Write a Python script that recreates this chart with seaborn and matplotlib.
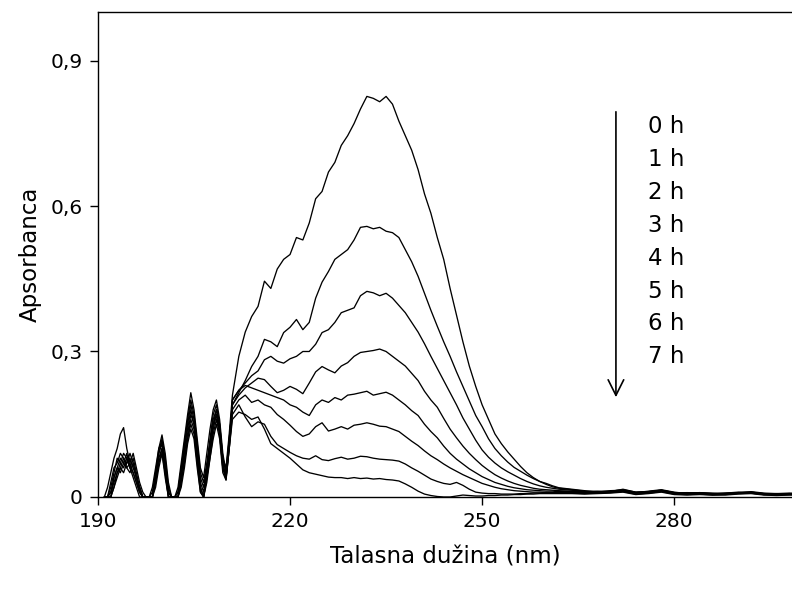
import numpy as np
import pandas as pd
import matplotlib
matplotlib.use("Agg")
import matplotlib.pyplot as plt
import seaborn as sns

# wavelength grid (nm): fine in the noisy far-UV part, coarser in the flat tail
wl = np.concatenate([np.arange(191, 211, 0.5), np.arange(211, 263, 1.0), np.arange(264, 301, 2.0)])

times = ['0 h', '1 h', '2 h', '3 h', '4 h', '5 h', '6 h', '7 h']

abs_0h = [0, 0, 0.03, 0.06, 0.07, 0.09, 0.08, 0.06, 0.05, 0.07, 0.04, 0.02, 0, 0, 0, 0, 0.04, 0.09, 0.12, 0.08,
          0.02, 0, 0, 0.01, 0.06, 0.11, 0.16, 0.2, 0.17, 0.11, 0.05, 0.03, 0.07, 0.12, 0.17, 0.19, 0.15, 0.08, 0.06, 0.13,
          0.21, 0.29, 0.34, 0.372, 0.393, 0.445, 0.43, 0.47, 0.49, 0.5, 0.535, 0.53, 0.565, 0.615, 0.63, 0.67, 0.69,
          0.725, 0.745, 0.77, 0.8, 0.826, 0.822, 0.815, 0.826, 0.81, 0.775, 0.745, 0.715, 0.675, 0.625, 0.585, 0.535,
          0.49, 0.43, 0.375, 0.32, 0.27, 0.228, 0.19, 0.16, 0.13, 0.11, 0.093, 0.078, 0.063, 0.05, 0.04, 0.032, 0.026,
          0.021, 0.018,
          0.015, 0.012, 0.011, 0.012, 0.015, 0.010, 0.011, 0.014, 0.009, 0.008, 0.009, 0.007, 0.008, 0.009, 0.010,
          0.007, 0.006, 0.007, 0.007]
abs_1h = [0, 0.02, 0.05, 0.08, 0.1, 0.13, 0.143, 0.1, 0.07, 0.09, 0.06, 0.03, 0.01, 0, 0, 0.02, 0.06, 0.1, 0.128, 0.09,
          0.03, 0, 0, 0.02, 0.07, 0.12, 0.17, 0.215, 0.18, 0.12, 0.06, 0.04, 0.09, 0.14, 0.18, 0.2, 0.16, 0.09, 0.05, 0.12,
          0.19, 0.215, 0.24, 0.269, 0.29, 0.325, 0.32, 0.31, 0.339, 0.35, 0.366, 0.345, 0.36, 0.41, 0.443, 0.465, 0.49,
          0.5, 0.51, 0.53, 0.556, 0.558, 0.553, 0.556, 0.548, 0.545, 0.535, 0.51, 0.485, 0.455, 0.42, 0.385, 0.352,
          0.32, 0.29, 0.258, 0.228, 0.198, 0.168, 0.145, 0.12, 0.1, 0.085, 0.072, 0.061, 0.053, 0.045, 0.038, 0.032,
          0.028, 0.023, 0.019,
          0.016, 0.013, 0.010, 0.013, 0.014, 0.009, 0.012, 0.015, 0.010, 0.007, 0.008, 0.008, 0.007, 0.008, 0.011,
          0.008, 0.007, 0.006, 0.006]
abs_2h = [0, 0, 0.02, 0.05, 0.08, 0.07, 0.09, 0.08, 0.06, 0.08, 0.05, 0.02, 0, 0, 0, 0, 0.05, 0.1, 0.115, 0.07,
          0.01, 0, 0, 0, 0.05, 0.1, 0.15, 0.19, 0.16, 0.1, 0.04, 0.02, 0.06, 0.11, 0.16, 0.18, 0.14, 0.07, 0.04, 0.11,
          0.2, 0.22, 0.235, 0.25, 0.26, 0.283, 0.29, 0.28, 0.276, 0.285, 0.29, 0.3, 0.3, 0.315, 0.339, 0.345, 0.36,
          0.38, 0.385, 0.39, 0.415, 0.424, 0.421, 0.415, 0.42, 0.41, 0.395, 0.38, 0.36, 0.34, 0.316, 0.29, 0.265,
          0.24, 0.215, 0.19, 0.163, 0.14, 0.117, 0.097, 0.082, 0.07, 0.06, 0.052, 0.045, 0.038, 0.032, 0.027, 0.023,
          0.02, 0.018, 0.016,
          0.014, 0.011, 0.012, 0.011, 0.016, 0.010, 0.010, 0.013, 0.008, 0.009, 0.008, 0.006, 0.008, 0.010, 0.009,
          0.006, 0.007, 0.008, 0.007]
abs_3h = [0, 0, 0, 0.04, 0.06, 0.08, 0.07, 0.09, 0.06, 0.05, 0.03, 0.01, 0, 0, 0, 0.01, 0.05, 0.09, 0.11, 0.06,
          0.01, 0, 0, 0.01, 0.06, 0.1, 0.14, 0.18, 0.15, 0.09, 0.03, 0.01, 0.06, 0.1, 0.15, 0.18, 0.15, 0.08, 0.05, 0.12,
          0.19, 0.21, 0.225, 0.235, 0.245, 0.242, 0.228, 0.215, 0.22, 0.228, 0.222, 0.213, 0.235, 0.258, 0.269, 0.262,
          0.256, 0.27, 0.277, 0.29, 0.298, 0.3, 0.302, 0.305, 0.3, 0.29, 0.28, 0.27, 0.255, 0.24, 0.218, 0.2, 0.185,
          0.162, 0.14, 0.122, 0.105, 0.09, 0.077, 0.065, 0.055, 0.046, 0.039, 0.033, 0.028, 0.024, 0.021, 0.018,
          0.016, 0.015, 0.014, 0.013,
          0.012, 0.010, 0.011, 0.010, 0.014, 0.009, 0.011, 0.014, 0.009, 0.007, 0.009, 0.007, 0.006, 0.009, 0.010,
          0.007, 0.006, 0.006, 0.006]
abs_4h = [0, 0, 0.01, 0.03, 0.05, 0.06, 0.08, 0.07, 0.08, 0.06, 0.04, 0.02, 0, 0, 0, 0, 0.04, 0.08, 0.1, 0.06,
          0.01, 0, 0, 0, 0.04, 0.09, 0.13, 0.17, 0.15, 0.09, 0.02, 0, 0.05, 0.1, 0.15, 0.17, 0.14, 0.07, 0.04, 0.11,
          0.2, 0.22, 0.23, 0.225, 0.22, 0.215, 0.21, 0.205, 0.2, 0.19, 0.185, 0.175, 0.168, 0.19, 0.2, 0.195, 0.205,
          0.2, 0.21, 0.212, 0.215, 0.218, 0.21, 0.213, 0.216, 0.21, 0.2, 0.19, 0.178, 0.168, 0.15, 0.135, 0.122,
          0.105, 0.09, 0.078, 0.068, 0.058, 0.05, 0.042, 0.036, 0.03, 0.026, 0.022, 0.019, 0.017, 0.015, 0.014,
          0.013, 0.012, 0.012, 0.011,
          0.011, 0.010, 0.009, 0.011, 0.013, 0.008, 0.010, 0.013, 0.008, 0.008, 0.007, 0.006, 0.007, 0.008, 0.009,
          0.006, 0.005, 0.006, 0.006]
abs_5h = [0, 0, 0, 0.02, 0.04, 0.06, 0.05, 0.07, 0.09, 0.07, 0.04, 0.01, 0, 0, 0, 0, 0.03, 0.07, 0.1, 0.05,
          0, 0, 0, 0, 0.03, 0.08, 0.12, 0.16, 0.14, 0.08, 0.02, 0, 0.04, 0.09, 0.14, 0.17, 0.13, 0.06, 0.04, 0.1,
          0.18, 0.2, 0.21, 0.195, 0.2, 0.19, 0.185, 0.17, 0.16, 0.148, 0.135, 0.125, 0.13, 0.145, 0.153, 0.136, 0.14,
          0.145, 0.14, 0.148, 0.15, 0.153, 0.15, 0.146, 0.145, 0.14, 0.135, 0.125, 0.115, 0.106, 0.095, 0.085, 0.077,
          0.068, 0.06, 0.053, 0.046, 0.04, 0.034, 0.028, 0.024, 0.02, 0.017, 0.015, 0.013, 0.012, 0.011, 0.01,
          0.01, 0.009, 0.009, 0.009,
          0.009, 0.009, 0.008, 0.010, 0.012, 0.008, 0.009, 0.012, 0.007, 0.006, 0.007, 0.005, 0.006, 0.008, 0.008,
          0.005, 0.005, 0.005, 0.005]
abs_6h = [0, 0, 0.01, 0.04, 0.06, 0.05, 0.07, 0.06, 0.07, 0.05, 0.03, 0.01, 0, 0, 0, 0, 0.03, 0.07, 0.09, 0.05,
          0, 0, 0, 0, 0.03, 0.07, 0.12, 0.15, 0.13, 0.07, 0.01, 0, 0.04, 0.08, 0.13, 0.16, 0.13, 0.06, 0.035, 0.1,
          0.17, 0.19, 0.165, 0.145, 0.155, 0.15, 0.125, 0.108, 0.1, 0.092, 0.085, 0.08, 0.078, 0.085, 0.077, 0.075,
          0.079, 0.082, 0.078, 0.08, 0.084, 0.083, 0.08, 0.078, 0.077, 0.076, 0.074, 0.068, 0.06, 0.053, 0.045, 0.037,
          0.032, 0.028, 0.026, 0.03, 0.024, 0.016, 0.01, 0.008, 0.007, 0.007, 0.006, 0.006, 0.006, 0.007, 0.007,
          0.008, 0.008, 0.008, 0.008, 0.008,
          0.008, 0.007, 0.008, 0.009, 0.011, 0.006, 0.008, 0.011, 0.006, 0.005, 0.006, 0.004, 0.005, 0.007, 0.008,
          0.005, 0.004, 0.005, 0.005]
abs_7h = [0, 0, 0, 0.02, 0.05, 0.07, 0.06, 0.08, 0.06, 0.04, 0.02, 0, 0, 0, 0, 0, 0.02, 0.06, 0.09, 0.04,
          0, 0, 0, 0, 0.02, 0.06, 0.11, 0.14, 0.12, 0.06, 0.01, 0, 0.03, 0.08, 0.12, 0.15, 0.12, 0.05, 0.035, 0.1,
          0.16, 0.175, 0.17, 0.16, 0.165, 0.14, 0.11, 0.1, 0.09, 0.08, 0.068, 0.056, 0.05, 0.047, 0.044, 0.041, 0.04,
          0.04, 0.038, 0.04, 0.038, 0.039, 0.037, 0.038, 0.036, 0.035, 0.033, 0.027, 0.02, 0.012, 0.006, 0.003,
          0.001, 0, 0, 0.002, 0.004, 0.003, 0.002, 0.002, 0.003, 0.003, 0.004, 0.004, 0.005, 0.005, 0.006, 0.006,
          0.007, 0.007, 0.007, 0.007,
          0.007, 0.006, 0.007, 0.008, 0.010, 0.005, 0.007, 0.010, 0.005, 0.004, 0.005, 0.004, 0.004, 0.006, 0.007,
          0.004, 0.003, 0.004, 0.004]

curves = [abs_0h, abs_1h, abs_2h, abs_3h, abs_4h, abs_5h, abs_6h, abs_7h]

# long table for seaborn
df = pd.concat([pd.DataFrame({'wl': wl, 'A': np.clip(c, 0, None), 'time': t}) for t, c in zip(times, curves)],
               ignore_index=True)

sns.set_style("ticks", rc={'text.color': 'black', 'axes.labelcolor': 'black',
                           'xtick.color': 'black', 'ytick.color': 'black', 'axes.edgecolor': 'black'})
plt.rcParams['font.family'] = ['DejaVu Sans']

fig = plt.figure(figsize=(7.92, 5.92), dpi=100)
ax = fig.add_axes([0.1237, 0.1605, 0.8763, 0.8192])

sns.lineplot(data=df, x='wl', y='A', hue='time', palette=['black'] * len(times),
             legend=False, estimator=None, sort=False, lw=0.95, ax=ax)

ax.set_xlim(190, 298.4)
ax.set_ylim(0, 1.0)
ax.set_xticks([190, 220, 250, 280])
ax.set_yticks([0, 0.3, 0.6, 0.9])
ax.set_yticklabels(['0', '0,3', '0,6', '0,9'])
ax.tick_params(axis='both', direction='out', length=6, width=1, labelsize=14.5, color='black',
               labelcolor='black', pad=5)
for s in ['left', 'bottom', 'top']:
    ax.spines[s].set_color('black')
    ax.spines[s].set_linewidth(1)
ax.spines['right'].set_visible(False)

ax.set_xlabel('Talasna dužina (nm)', fontsize=16.5, labelpad=10, color='black')
ax.set_ylabel('Apsorbanca', fontsize=16.5, labelpad=6, color='black')

# time arrow and labels
ax.annotate('', xy=(270.9, 0.2), xytext=(270.9, 0.80),
            arrowprops=dict(arrowstyle='->', color='black', lw=1.2, mutation_scale=28))
for i, t in enumerate(times):
    ax.text(275.9, 0.763 - i * 0.0677, t, fontsize=16.5, va='center', ha='left', color='black')

fig.savefig('out.png', dpi=100)
